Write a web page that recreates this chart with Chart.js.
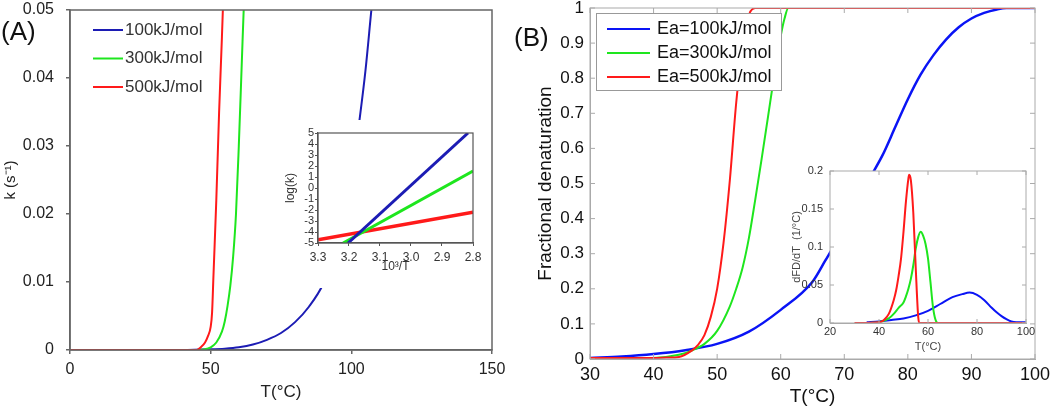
<!DOCTYPE html>
<html>
<head>
<meta charset="utf-8">
<script src="https://cdn.jsdelivr.net/npm/chart.js@4.4.1/dist/chart.umd.min.js"></script>
<style>
body { margin: 0; background: #fff; }
#wrap { position: relative; width: 1050px; height: 410px; overflow: hidden; font-family: "Liberation Sans", Arial, sans-serif; }
canvas { position: absolute; }
.tag { position: absolute; color: #111; font-size: 26px; line-height: 1; }
</style>
</head>
<body>
<div id="wrap">
  <canvas id="mainA" width="520" height="410" style="left:0px;top:0px"></canvas>
  <canvas id="insetA" width="210" height="168" style="left:278px;top:120px;background:#fff"></canvas>
  <canvas id="mainB" width="545" height="410" style="left:505px;top:0px"></canvas>
  <canvas id="insetB" width="265" height="200" style="left:780px;top:160px"></canvas>
  <div class="tag" style="left:1px;top:18px">(A)</div>
  <div class="tag" style="left:514px;top:24px">(B)</div>
</div>
<script>
// ---- Panel A: rate constant k vs temperature ----
const tA_blue = [0, 40, 50, 55, 60, 65, 70, 75, 80, 85, 90, 95, 100, 102.5, 105, 107, 109];
const kA_blue = [0, 0, 0.0001, 0.0002, 0.0004, 0.0008, 0.0015, 0.0025, 0.0041, 0.0064, 0.0097, 0.0152, 0.0245, 0.0325, 0.041, 0.0495, 0.058];
const tA_green = [0, 45, 48, 50, 52, 54, 55, 56, 57, 58, 59, 60, 61, 62, 63];
const kA_green = [0, 0, 0.0001, 0.0004, 0.0011, 0.0027, 0.0042, 0.0065, 0.0095, 0.0138, 0.02, 0.03, 0.0415, 0.053, 0.062];
const tA_red = [0, 40, 44, 45, 46.5, 48, 49, 50, 50.5, 51, 52, 53, 54, 55];
const kA_red = [0, 0, 0, 0, 0.0004, 0.0011, 0.002, 0.0034, 0.0055, 0.011, 0.022, 0.035, 0.046, 0.058];

// inset A: log(k) vs 10^3/T
const invT_blue = [3.203, 2.816];
const logk_blue = [-5, 5];
const invT_green = [3.219, 2.8];
const logk_green = [-5, 1.55];
const invT_red = [3.3, 2.8];
const logk_red = [-4.7, -2.2];

// ---- Panel B: fractional denaturation vs temperature ----
const tB_blue = [30, 35, 40, 45, 50, 55, 60, 65, 67, 70, 72, 74, 76, 78, 80, 82, 84, 86, 88, 90, 92, 94, 95.5, 100];
const fB_blue = [0.003, 0.007, 0.014, 0.025, 0.043, 0.078, 0.14, 0.22, 0.28, 0.375, 0.45, 0.515, 0.58, 0.66, 0.74, 0.81, 0.865, 0.91, 0.945, 0.97, 0.986, 0.996, 1, 1];
const tB_green = [30, 40, 44, 46, 48, 50, 52, 53, 54, 55, 56, 57, 58, 59, 60, 60.6, 61.2, 100];
const fB_green = [0.001, 0.003, 0.012, 0.024, 0.043, 0.08, 0.15, 0.2, 0.26, 0.345, 0.455, 0.57, 0.69, 0.81, 0.92, 0.97, 1, 1];
const tB_red = [30, 36, 40, 42, 44, 46, 47, 48, 49, 50, 51, 52, 53, 54, 55, 56, 100];
const fB_red = [0.003, 0.003, 0.003, 0.004, 0.006, 0.024, 0.04, 0.068, 0.12, 0.2, 0.33, 0.51, 0.73, 0.89, 0.98, 1, 1];

// inset B: dFD/dT
const tI_blue = [35, 40, 45, 50, 55, 60, 65, 70, 74, 77, 80, 83, 86, 88, 90, 92, 94, 96, 100];
const dI_blue = [0.001, 0.002, 0.004, 0.006, 0.01, 0.016, 0.025, 0.034, 0.038, 0.04, 0.037, 0.03, 0.02, 0.014, 0.009, 0.005, 0.002, 0.001, 0.001];
const tI_green = [36, 40, 44, 46, 48, 50, 51, 52, 53, 54, 55, 56, 57, 58, 59, 60, 61, 62, 63, 64, 70];
const dI_green = [0, 0.001, 0.006, 0.012, 0.02, 0.027, 0.035, 0.045, 0.058, 0.076, 0.098, 0.113, 0.12, 0.115, 0.104, 0.085, 0.054, 0.022, 0.005, 0, 0];
const tI_red = [30, 40, 42, 44, 46, 47, 48, 49, 50, 51, 52, 52.3, 53, 54, 55, 56, 56.5, 100];
const dI_red = [0, 0.001, 0.004, 0.012, 0.03, 0.043, 0.062, 0.085, 0.12, 0.16, 0.19, 0.195, 0.188, 0.145, 0.072, 0.008, 0, 0];

const labelsA = ['100kJ/mol', '300kJ/mol', '500kJ/mol'];
const labelsB = ['Ea=100kJ/mol', 'Ea=300kJ/mol', 'Ea=500kJ/mol'];

const BLUE_A = '#1c1cb4';
const BLUE = '#0a14f5';
const GREEN = '#1ee61e';
const RED = '#ff1a1a';

function pts(xs, ys) {
    return xs.map((x, i) => ({ x: x, y: ys[i] }));
}

// plain tick numbers: 0, 0.1, 1 (no trailing zeros)
const plain = v => String(+v.toFixed(3));

// force axis sizes so the plot areas land where they are in the figure
function fixY(w) {
    return function (s) { s.width = w; s.paddingTop = 0; s.paddingBottom = 0; };
}
function fixX(h) {
    return function (s) { s.height = h; s.paddingLeft = 0; s.paddingRight = 0; };
}

// box around the plot area, optional inward ticks on all sides
const framePlugin = {
    id: 'frame',
    defaults: { show: false },
    beforeDatasetsDraw(chart, args, o) {
        if (!o.show || !o.fill) return;
        const a = chart.chartArea;
        chart.ctx.save();
        chart.ctx.fillStyle = o.fill;
        chart.ctx.fillRect(a.left, a.top, a.width, a.height);
        chart.ctx.restore();
    },
    afterDatasetsDraw(chart, args, o) {
        if (!o.show) return;
        const ctx = chart.ctx;
        const a = chart.chartArea;
        const sx = chart.scales.x, sy = chart.scales.y;
        ctx.save();
        ctx.strokeStyle = o.color;
        ctx.lineWidth = o.width;
        if (o.inward) {
            ctx.beginPath();
            sx.ticks.forEach(t => {
                const px = sx.getPixelForValue(t.value);
                ctx.moveTo(px, a.bottom); ctx.lineTo(px, a.bottom - o.len);
                ctx.moveTo(px, a.top); ctx.lineTo(px, a.top + o.len);
            });
            sy.ticks.forEach(t => {
                const py = sy.getPixelForValue(t.value);
                ctx.moveTo(a.left, py); ctx.lineTo(a.left + o.len, py);
                ctx.moveTo(a.right, py); ctx.lineTo(a.right - o.len, py);
            });
            ctx.stroke();
        }
        ctx.strokeRect(a.left, a.top, a.width, a.height);
        ctx.restore();
    }
};

// line-sample legend drawn at a fixed spot
const legendPlugin = {
    id: 'legendLines',
    defaults: { show: false },
    afterDraw(chart, args, o) {
        if (!o.show) return;
        const ctx = chart.ctx;
        ctx.save();
        if (o.box) {
            ctx.fillStyle = '#fff';
            ctx.fillRect(o.box[0], o.box[1], o.box[2], o.box[3]);
            ctx.strokeStyle = o.boxColor;
            ctx.lineWidth = 1;
            ctx.strokeRect(o.box[0] + 0.5, o.box[1] + 0.5, o.box[2], o.box[3]);
        }
        ctx.font = o.font;
        ctx.textBaseline = 'middle';
        chart.data.datasets.forEach((ds, i) => {
            const y = o.y + i * o.rowH;
            ctx.strokeStyle = ds.borderColor;
            ctx.lineWidth = o.lineWidth;
            ctx.beginPath();
            ctx.moveTo(o.x0, y);
            ctx.lineTo(o.x1, y);
            ctx.stroke();
            ctx.fillStyle = o.textColor;
            ctx.fillText(ds.label, o.textX, y);
        });
        ctx.restore();
    }
};

Chart.defaults.font.family = '"Liberation Sans", Arial, sans-serif';
Chart.defaults.animation = false;
Chart.defaults.plugins.legend.display = false;
Chart.defaults.plugins.tooltip.enabled = false;
Chart.defaults.elements.point.radius = 0;
Chart.register(framePlugin, legendPlugin);

// Panel A main
new Chart(document.getElementById('mainA'), {
    type: 'line',
    data: {
        datasets: [
            { label: labelsA[0], data: pts(tA_blue, kA_blue), borderColor: BLUE_A, borderWidth: 2, order: 2 },
            { label: labelsA[1], data: pts(tA_green, kA_green), borderColor: GREEN, borderWidth: 2, order: 1 },
            { label: labelsA[2], data: pts(tA_red, kA_red), borderColor: RED, borderWidth: 2, order: 0 }
        ]
    },
    options: {
        responsive: false,
        devicePixelRatio: 1,
        layout: { padding: { left: 0, right: 28, top: 10, bottom: 0 } },
        elements: { line: { cubicInterpolationMode: 'monotone' } },
        scales: {
            x: {
                type: 'linear', min: 0, max: 150, afterFit: fixX(60),
                ticks: { stepSize: 50, padding: 6, color: '#222', font: { size: 16 } },
                grid: { drawOnChartArea: false, tickLength: 4, color: '#666', lineWidth: 1.5 },
                border: { color: '#666', width: 1.5 },
                title: { display: true, text: 'T(°C)', color: '#222', font: { size: 17 }, padding: { top: 0, bottom: 7 } }
            },
            y: {
                min: 0, max: 0.05, afterFit: fixY(70),
                ticks: { stepSize: 0.01, padding: 12, color: '#222', font: { size: 16 }, callback: plain },
                grid: { drawOnChartArea: false, tickLength: 4, color: '#666', lineWidth: 1.5 },
                border: { color: '#666', width: 1.5 },
                title: { display: true, text: 'k (s⁻¹)', color: '#222', font: { size: 15 }, padding: { top: 2, bottom: 0 } }
            }
        },
        plugins: {
            frame: { show: true, color: '#666', width: 1.5 },
            legendLines: { show: true, x0: 93, x1: 123, textX: 125, y: 30, rowH: 28.5, lineWidth: 2, font: '17px "Liberation Sans", Arial, sans-serif', textColor: '#333' }
        }
    }
});

// Panel A inset
new Chart(document.getElementById('insetA'), {
    type: 'line',
    data: {
        datasets: [
            { label: 'blue', data: pts(invT_blue, logk_blue), borderColor: BLUE_A, borderWidth: 3, order: 0 },
            { label: 'green', data: pts(invT_green, logk_green), borderColor: GREEN, borderWidth: 3, order: 1 },
            { label: 'red', data: pts(invT_red, logk_red), borderColor: RED, borderWidth: 3.5, order: 2 }
        ]
    },
    options: {
        responsive: false,
        devicePixelRatio: 1,
        layout: { padding: { left: 0, right: 15, top: 13, bottom: 0 } },
        scales: {
            x: {
                type: 'linear', min: 2.8, max: 3.3, reverse: true, afterFit: fixX(45),
                ticks: { stepSize: 0.1, autoSkip: false, padding: 4, color: '#333', font: { size: 12 }, callback: v => v.toFixed(1) },
                grid: { drawOnChartArea: false, tickLength: 3, color: '#555' },
                border: { color: '#555', width: 1.2 },
                title: { display: true, text: '10³/T', color: '#333', font: { size: 12 }, padding: { top: 0, bottom: 14 } }
            },
            y: {
                min: -5, max: 5, afterFit: fixY(40),
                ticks: { stepSize: 1, autoSkip: false, padding: 1, color: '#333', font: { size: 11 } },
                grid: { drawOnChartArea: false, tickLength: 3, color: '#555' },
                border: { color: '#555', width: 1.2 },
                title: { display: true, text: 'log(k)', color: '#333', font: { size: 12 }, padding: { top: 5, bottom: 0 } }
            }
        },
        plugins: { frame: { show: true, color: '#555', width: 1.2 } }
    }
});

// Panel B main
new Chart(document.getElementById('mainB'), {
    type: 'line',
    data: {
        datasets: [
            { label: labelsB[0], data: pts(tB_blue, fB_blue), borderColor: BLUE, borderWidth: 2.5, order: 2 },
            { label: labelsB[1], data: pts(tB_green, fB_green), borderColor: GREEN, borderWidth: 2, order: 1 },
            { label: labelsB[2], data: pts(tB_red, fB_red), borderColor: RED, borderWidth: 2, order: 0 }
        ]
    },
    options: {
        responsive: false,
        devicePixelRatio: 1,
        layout: { padding: { left: 0, right: 15, top: 8, bottom: 0 } },
        elements: { line: { cubicInterpolationMode: 'monotone' } },
        scales: {
            x: {
                type: 'linear', min: 30, max: 100, afterFit: fixX(51),
                ticks: { stepSize: 10, padding: 5, color: '#111', font: { size: 18 } },
                grid: { drawOnChartArea: false, drawTicks: false },
                border: { color: '#aaa', width: 1 },
                title: { display: true, text: 'T(°C)', color: '#111', font: { size: 19 }, padding: { top: 0, bottom: 2 } }
            },
            y: {
                min: 0, max: 1, afterFit: fixY(85),
                ticks: { stepSize: 0.1, padding: 6, color: '#111', font: { size: 17 }, callback: plain },
                grid: { drawOnChartArea: false, drawTicks: false },
                border: { color: '#aaa', width: 1 },
                title: { display: true, text: 'Fractional denaturation', color: '#111', font: { size: 19 }, padding: { top: 29, bottom: 0 } }
            }
        },
        plugins: {
            frame: { show: true, inward: true, len: 5, color: '#aaa', width: 1 },
            legendLines: {
                show: true, box: [91, 13, 185, 77], boxColor: '#999',
                x0: 102, x1: 145, textX: 152, y: 29, rowH: 24, lineWidth: 2,
                font: '18px "Liberation Sans", Arial, sans-serif', textColor: '#111'
            }
        }
    }
});

// Panel B inset
new Chart(document.getElementById('insetB'), {
    type: 'line',
    data: {
        datasets: [
            { label: 'blue', data: pts(tI_blue, dI_blue), borderColor: BLUE, borderWidth: 2, order: 2 },
            { label: 'green', data: pts(tI_green, dI_green), borderColor: GREEN, borderWidth: 2, order: 1 },
            { label: 'red', data: pts(tI_red, dI_red), borderColor: RED, borderWidth: 2, order: 0 }
        ]
    },
    options: {
        responsive: false,
        devicePixelRatio: 1,
        layout: { padding: { left: 0, right: 19, top: 11, bottom: 0 } },
        elements: { line: { cubicInterpolationMode: 'monotone' } },
        scales: {
            x: {
                type: 'linear', min: 20, max: 100, afterFit: fixX(37),
                ticks: { stepSize: 20, padding: 2, color: '#333', font: { size: 11 } },
                grid: { drawOnChartArea: false, drawTicks: false },
                border: { color: '#aaa', width: 1 },
                title: { display: true, text: 'T(°C)', color: '#444', font: { size: 11 }, padding: { top: 0, bottom: 6 } }
            },
            y: {
                min: 0, max: 0.2, afterFit: fixY(50),
                ticks: { stepSize: 0.05, padding: 7, color: '#333', font: { size: 11 }, callback: plain },
                grid: { drawOnChartArea: false, drawTicks: false },
                border: { color: '#aaa', width: 1 },
                title: { display: true, text: 'dFD/dT  (1/°C)', color: '#444', font: { size: 11 }, padding: { top: 10, bottom: 0 } }
            }
        },
        plugins: { frame: { show: true, inward: true, len: 4, fill: '#fff', color: '#aaa', width: 1 } }
    }
});
</script>
</body>
</html>
